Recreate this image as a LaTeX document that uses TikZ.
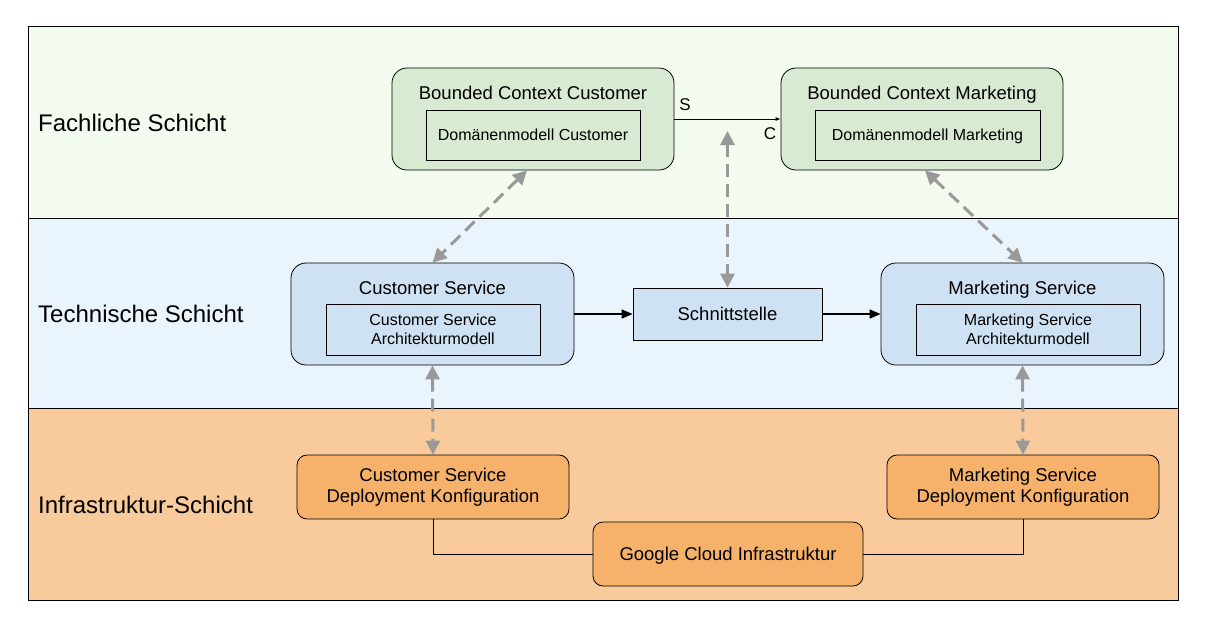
\documentclass[tikz,border=0pt]{standalone}
\usepackage{fontspec}
\setmainfont{Liberation Sans}
\usetikzlibrary{arrows.meta}
\definecolor{layerA}{HTML}{F3FCEF}
\definecolor{layerB}{HTML}{EAF4FD}
\definecolor{layerC}{HTML}{F9CB9C}
\definecolor{boxA}{HTML}{D9EAD3}
\definecolor{boxB}{HTML}{CFE2F3}
\definecolor{boxC}{HTML}{F6B26B}
\definecolor{dgray}{HTML}{999999}
\begin{document}
\begin{tikzpicture}[x=1pt,y=-1pt,
  layer/.style={draw=black, line width=0.8pt},
  layerlabel/.style={anchor=west, inner sep=0pt, text height=19pt, text depth=2pt, font=\fontsize{24}{28}\selectfont},
  outerbox/.style={draw=black, line width=0.8pt, rounded corners=15pt, inner sep=0pt, minimum height=102pt},
  innerbox/.style={draw=black, line width=0.8pt, inner sep=0pt, minimum height=51pt, align=center, font=\fontsize{16}{18.5}\selectfont},
  titletext/.style={inner sep=0pt, text height=15pt, text depth=2pt, font=\fontsize{18.5}{21}\selectfont},
  plainbox/.style={draw=black, line width=0.8pt, inner sep=0pt, align=center, font=\fontsize{18.5}{21}\selectfont},
  depbox/.style={draw=black, line width=0.8pt, rounded corners=10pt, inner sep=0pt, fill=boxC, minimum width=272pt, minimum height=64pt, align=center, font=\fontsize{18.5}{21}\selectfont},
  dashlink/.style={draw=dgray, line width=3pt, dash pattern=on 13pt off 7pt, {Triangle[length=14pt,width=14pt]}-{Triangle[length=14pt,width=14pt]}},
  solidlink/.style={draw=black, line width=1.6pt, -{Triangle[length=11pt,width=9pt]}},
  thinlink/.style={draw=black, line width=0.8pt}
]
\useasboundingbox (0,0) rectangle (1213,630);
\fill[white] (0,0) rectangle (1213,630);
% layers
\draw[layer, fill=layerA] (28,26) rectangle (1178,218);
\draw[layer, fill=layerB] (28,218) rectangle (1178,408);
\draw[layer, fill=layerC] (28,408) rectangle (1178,600);
\node[layerlabel] (l1) at (38,123) {Fachliche Schicht};
\node[layerlabel] (l2) at (38,314) {Technische Schicht};
\node[layerlabel] (l3) at (38,505) {Infrastruktur-Schicht};

% Fachliche Schicht
\node[outerbox, fill=boxA, minimum width=282pt] (bcc) at (533,119) {};
\node[titletext] (bcct) at (533,93) {Bounded Context Customer};
\node[innerbox, fill=boxA, minimum width=214pt, minimum height=50pt, text height=13.5pt, text depth=2pt] (bcci) at (533,135) {Domänenmodell Customer};
\node[outerbox, fill=boxA, minimum width=282pt] (bcm) at (922,119) {};
\node[titletext] (bcmt) at (922,93) {Bounded Context Marketing};
\node[innerbox, fill=boxA, minimum width=225pt, minimum height=50pt, text height=13.5pt, text depth=2pt] (bcmi) at (927.5,135) {Domänenmodell Marketing};

% Technische Schicht
\node[outerbox, fill=boxB, minimum width=283pt] (cs) at (432.5,314) {};
\node[titletext] (cst) at (432.5,288) {Customer Service};
\node[innerbox, fill=boxB, minimum width=214pt] (csi) at (433,329.5) {Customer Service\\Architekturmodell};
\node[plainbox, fill=boxB, minimum width=189pt, minimum height=52pt] (sch) at (727.5,314) {Schnittstelle};
\node[outerbox, fill=boxB, minimum width=283pt] (ms) at (1022.5,314) {};
\node[titletext] (mst) at (1022.5,288) {Marketing Service};
\node[innerbox, fill=boxB, minimum width=224pt] (msi) at (1028,329.5) {Marketing Service\\Architekturmodell};

% Infrastruktur-Schicht
\node[depbox] (csd) at (433,487) {Customer Service\\Deployment Konfiguration};
\node[depbox] (msd) at (1023,487) {Marketing Service\\Deployment Konfiguration};
\node[depbox, minimum width=270pt, text height=15pt, text depth=2pt] (gc) at (728,554) {Google Cloud Infrastruktur};

% connectors
\draw[thinlink, -{Latex[length=5pt,width=4pt]}] (bcc.east) -- (bcm.west);
\node[titletext, text height=14pt, font=\fontsize{17}{20}\selectfont] (slab) at (685,104) {S};
\node[titletext, text height=14pt, font=\fontsize{17}{20}\selectfont] (clab) at (770,133) {C};

\coordinate (schtop) at (727.5,131);
\draw[dashlink] (schtop) -- (sch.north);
\draw[dashlink] ([xshift=-6pt]bcc.south) -- (cs.north);
\draw[dashlink] ([xshift=3pt]bcm.south) -- (ms.north);
\draw[dashlink] (cs.south) -- (csd.north);
\draw[dashlink] (ms.south) -- (msd.north);

\draw[solidlink] (cs.east) -- (sch.west);
\draw[solidlink] (sch.east) -- (ms.west);

\draw[thinlink] (csd.south) |- (gc.west);
\draw[thinlink] (msd.south) |- (gc.east);
\end{tikzpicture}
\end{document}
